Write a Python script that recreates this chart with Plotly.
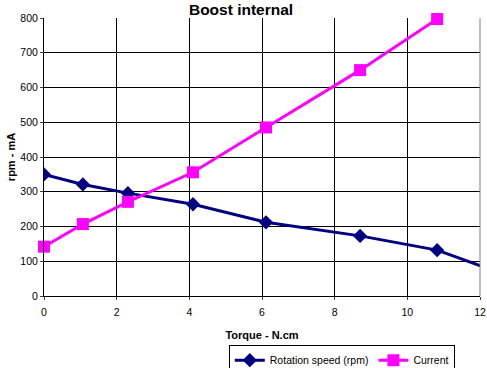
import plotly.graph_objects as go

torque = [0, 1.07, 2.31, 4.1, 6.11, 8.7, 10.82, 12.4]
speed = [350, 321, 296, 264, 212, 173, 132, 72]
torque_cur = [0, 1.07, 2.31, 4.1, 6.11, 8.7, 10.82]
current = [142, 207, 271, 356, 485, 650, 797]

x_ticks = [0, 2, 4, 6, 8, 10, 12]
y_ticks = [0, 100, 200, 300, 400, 500, 600, 700, 800]

font = "Liberation Sans, Arial, sans-serif"

fig = go.Figure()
fig.add_trace(go.Scatter(
    x=torque, y=speed, mode="lines+markers", name="Rotation speed (rpm)",
    line=dict(color="#000080", width=3),
    marker=dict(symbol="diamond", size=11, color="#000080"),
    cliponaxis=True,
))
fig.add_trace(go.Scatter(
    x=torque_cur, y=current, mode="lines+markers", name="Current",
    line=dict(color="#FF00FF", width=3),
    marker=dict(symbol="square", size=12, color="#FF00FF"),
    cliponaxis=False,
))

fig.update_layout(
    width=487, height=368,
    margin=dict(l=44, r=7, t=18, b=72, autoexpand=False),
    paper_bgcolor="white", plot_bgcolor="white",
    font=dict(family=font, size=10, color="black"),
    title=dict(text="<b>Boost internal</b>", x=0.495, xanchor="center",
               xref="container", yref="container",
               y=0.974, yanchor="middle", pad=dict(t=0, b=0),
               font=dict(size=15.5, family=font, color="black")),
    showlegend=True,
    legend=dict(orientation="h", x=0.683, y=-0.175, xanchor="center", yanchor="top",
                bordercolor="black", borderwidth=1, font=dict(size=10.5, family=font),
                itemwidth=30, tracegroupgap=0),
    xaxis=dict(range=[0, 12], tickvals=x_ticks, showgrid=True, gridcolor="black",
               gridwidth=1, showline=True, linecolor="black", linewidth=1,
               mirror=False, zeroline=False, ticks="outside", ticklen=3,
               automargin=False, ticklabelstandoff=3,
               tickfont=dict(size=10.5, family=font),
               title=dict(text="<b>Torque - N.cm</b>", font=dict(size=11, family=font), standoff=14)),
    yaxis=dict(range=[0, 800], tickvals=y_ticks, showgrid=True, gridcolor="black",
               gridwidth=1, showline=True, linecolor="black", linewidth=1,
               zeroline=False, ticks="outside", ticklen=3,
               automargin=False,
               tickfont=dict(size=10.5, family=font),
               title=dict(text="<b>rpm - mA</b>", font=dict(size=11, family=font), standoff=2)),
)
fig.add_shape(type="line", xref="paper", yref="paper", x0=1, x1=1, y0=0, y1=1,
              line=dict(color="#808080", width=1))

fig.write_html("out.html", config={"displayModeBar": False},
               post_script="document.body.style.margin='0';document.body.style.overflow='hidden';")
